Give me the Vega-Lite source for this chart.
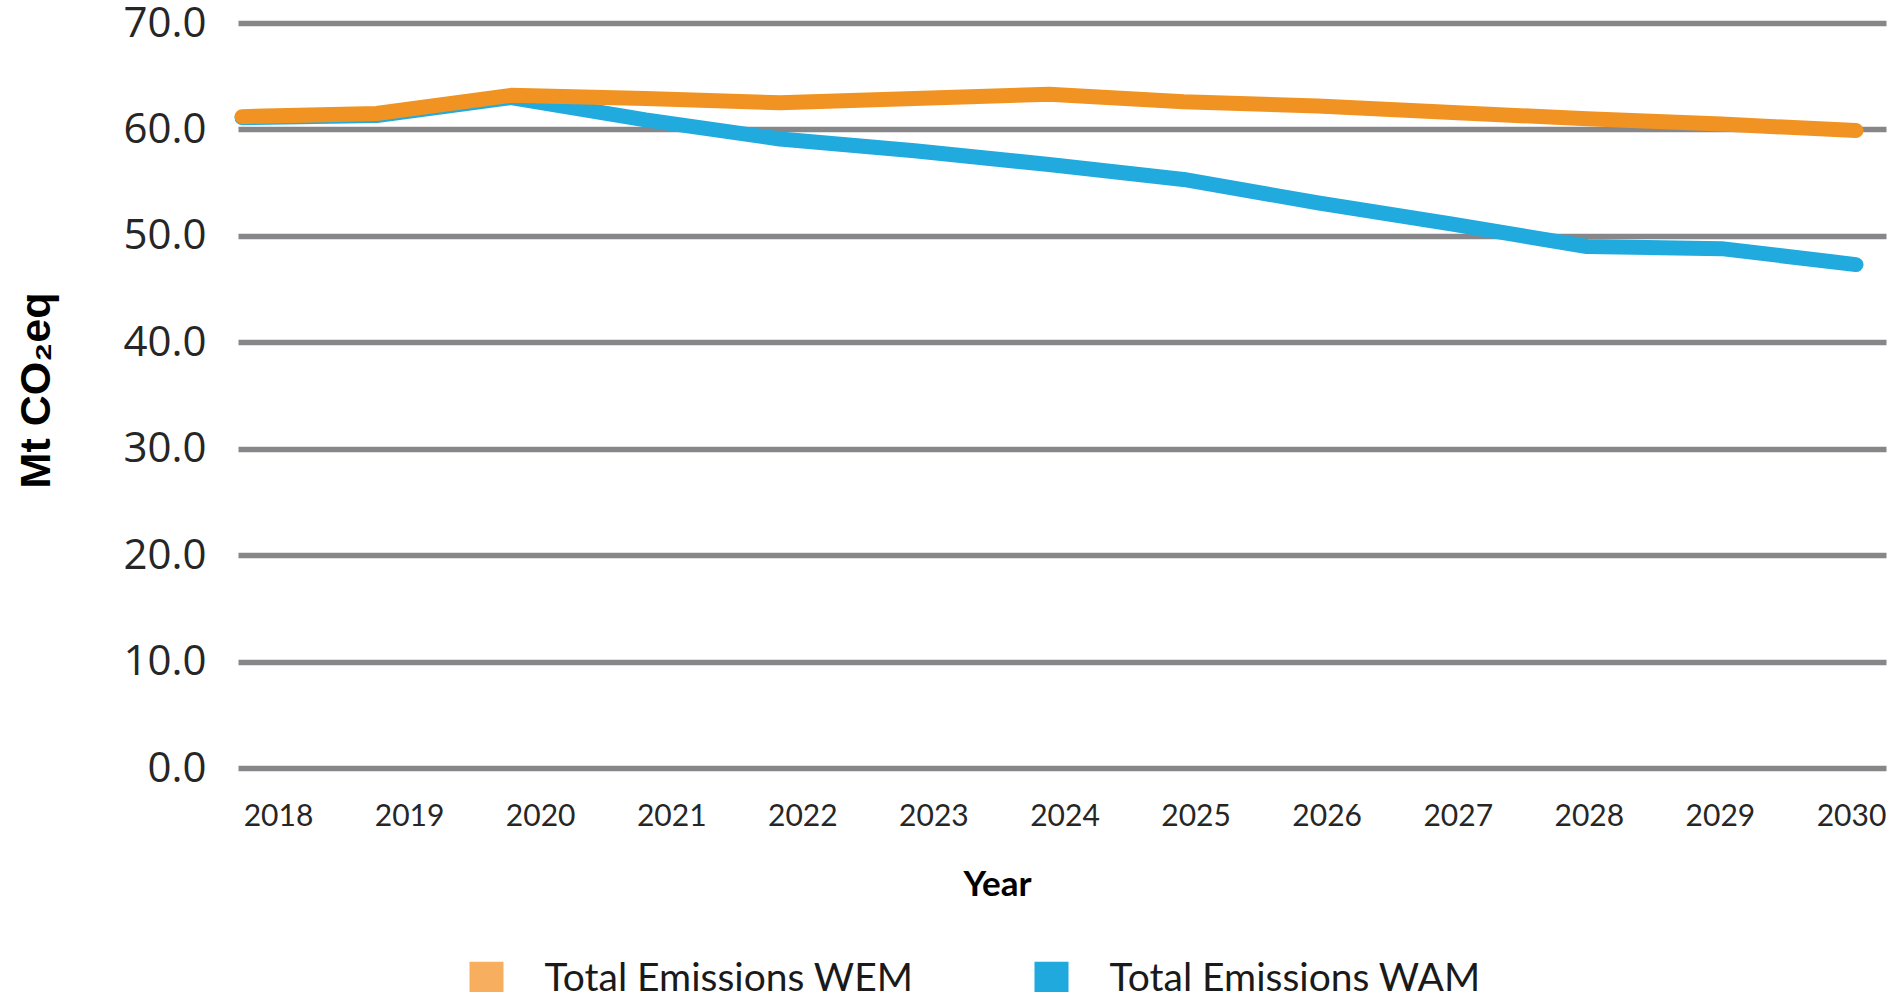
{
  "$schema": "https://vega.github.io/schema/vega-lite/v6.json",
  "width": 1648,
  "height": 745,
  "autosize": {"type": "none"},
  "padding": {"left": 238, "top": 23, "right": 10, "bottom": 224},
  "background": "white",
  "config": {"view": {"stroke": null}},
  "data": {
    "values": [
      {"year": 2018, "series": "Total Emissions WEM", "value": 61.2},
      {"year": 2019, "series": "Total Emissions WEM", "value": 61.5},
      {"year": 2020, "series": "Total Emissions WEM", "value": 63.2},
      {"year": 2021, "series": "Total Emissions WEM", "value": 62.9},
      {"year": 2022, "series": "Total Emissions WEM", "value": 62.5},
      {"year": 2023, "series": "Total Emissions WEM", "value": 62.9},
      {"year": 2024, "series": "Total Emissions WEM", "value": 63.3},
      {"year": 2025, "series": "Total Emissions WEM", "value": 62.6},
      {"year": 2026, "series": "Total Emissions WEM", "value": 62.2},
      {"year": 2027, "series": "Total Emissions WEM", "value": 61.6},
      {"year": 2028, "series": "Total Emissions WEM", "value": 61.0},
      {"year": 2029, "series": "Total Emissions WEM", "value": 60.5},
      {"year": 2030, "series": "Total Emissions WEM", "value": 59.9},
      {"year": 2018, "series": "Total Emissions WAM", "value": 61.1},
      {"year": 2019, "series": "Total Emissions WAM", "value": 61.3},
      {"year": 2020, "series": "Total Emissions WAM", "value": 63.0},
      {"year": 2021, "series": "Total Emissions WAM", "value": 60.9},
      {"year": 2022, "series": "Total Emissions WAM", "value": 59.1},
      {"year": 2023, "series": "Total Emissions WAM", "value": 58.0},
      {"year": 2024, "series": "Total Emissions WAM", "value": 56.7},
      {"year": 2025, "series": "Total Emissions WAM", "value": 55.3},
      {"year": 2026, "series": "Total Emissions WAM", "value": 53.1},
      {"year": 2027, "series": "Total Emissions WAM", "value": 51.1},
      {"year": 2028, "series": "Total Emissions WAM", "value": 49.0},
      {"year": 2029, "series": "Total Emissions WAM", "value": 48.8},
      {"year": 2030, "series": "Total Emissions WAM", "value": 47.3}
    ]
  },
  "encoding": {
    "y": {
      "field": "value",
      "type": "quantitative",
      "scale": {"domain": [0, 70], "nice": false, "zero": true},
      "axis": {
        "values": [0, 10, 20, 30, 40, 50, 60, 70],
        "format": ".1f",
        "title": "Mt CO₂eq",
        "titleFont": "Liberation Sans",
        "titleFontSize": 43,
        "titleFontWeight": "bold",
        "titleColor": "#000000",
        "titleX": -202,
        "titleY": 367,
        "titleAngle": -90,
        "titleAlign": "center",
        "titleBaseline": "middle",
        "labelFont": "Open Sans",
        "labelFontSize": 42,
        "labelColor": "#262626",
        "labelPadding": 32,
        "ticks": false,
        "domain": false,
        "grid": true,
        "gridColor": "#87878A",
        "gridWidth": 5.5,
        "gridOpacity": 1
      }
    }
  },
  "layer": [
    {
      "transform": [{"filter": "datum.series === 'Total Emissions WAM'"}],
      "mark": {"type": "line", "strokeWidth": 15, "strokeCap": "round", "strokeJoin": "round"},
      "encoding": {
        "x": {"field": "year", "type": "quantitative", "scale": {"domain": [2017.97, 2030.223], "nice": false, "zero": false}, "axis": null},
        "color": {
          "field": "series",
          "type": "nominal",
          "scale": {"domain": ["Total Emissions WEM", "Total Emissions WAM"], "range": ["#F09322", "#20AADE"]},
          "legend": {
            "title": null,
            "orient": "none",
            "legendX": 229,
            "legendY": 936,
            "direction": "horizontal",
            "symbolType": "square",
            "symbolSize": 1156,
            "symbolStrokeWidth": 0,
            "labelFont": "Lato",
            "labelFontSize": 39,
            "labelLimit": 0,
            "labelColor": "#1a1a1a",
            "labelOffset": 38.5,
            "columnPadding": 118,
            "encode": {
              "symbols": {
                "update": {
                  "fill": [{"test": "datum.value === 'Total Emissions WEM'", "value": "#F7AF5F"}, {"value": "#20A9DD"}],
                  "stroke": {"value": "transparent"}
                }
              }
            }
          }
        }
      }
    },
    {
      "transform": [{"filter": "datum.series === 'Total Emissions WEM'"}],
      "mark": {"type": "line", "strokeWidth": 15, "strokeCap": "round", "strokeJoin": "round"},
      "encoding": {
        "x": {"field": "year", "type": "quantitative", "scale": {"domain": [2017.97, 2030.223], "nice": false, "zero": false}, "axis": null},
        "color": {
          "field": "series",
          "type": "nominal",
          "scale": {"domain": ["Total Emissions WEM", "Total Emissions WAM"], "range": ["#F09322", "#20AADE"]}
        }
      }
    },
    {
      "mark": {"type": "point", "opacity": 0},
      "encoding": {
        "x": {
          "field": "year",
          "type": "quantitative",
          "scale": {"domain": [2017.695, 2030.267], "nice": false, "zero": false},
          "axis": {
            "values": [2018, 2019, 2020, 2021, 2022, 2023, 2024, 2025, 2026, 2027, 2028, 2029, 2030],
            "format": "d",
            "title": "Year",
            "titleFont": "Lato",
            "titleFontSize": 35,
            "titleFontWeight": "bold",
            "titleColor": "#000000",
            "titleX": 759,
            "titleY": 116,
            "titleAlign": "center",
            "titleBaseline": "middle",
            "labelFont": "Lato",
            "labelFontSize": 30,
            "labelColor": "#262626",
            "labelPadding": 33,
            "labelFlush": false,
            "labelOverlap": false,
            "ticks": false,
            "domain": false,
            "grid": false
          }
        }
      }
    }
  ],
  "resolve": {"scale": {"x": "independent"}}
}
